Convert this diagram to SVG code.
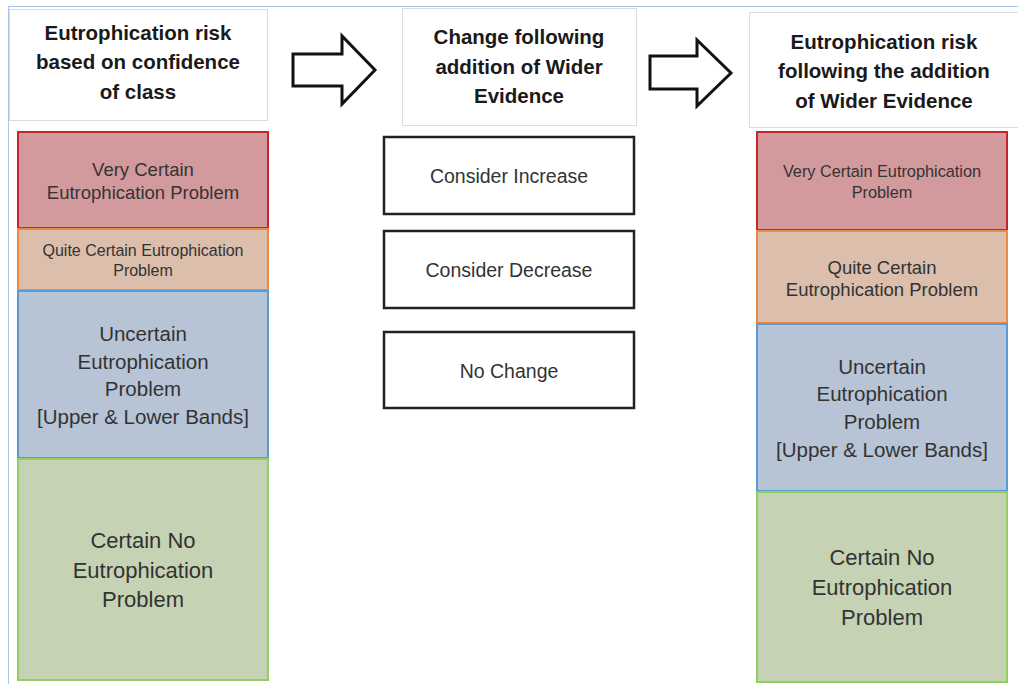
<svg xmlns="http://www.w3.org/2000/svg" width="1018" height="684" viewBox="0 0 1018 684">
<style>
text{font-family:"Liberation Sans",Arial,sans-serif;text-anchor:middle;fill:#333}
.hd{font-weight:bold;font-size:20.5px;fill:#1a1a1a}
.hbox{fill:#fff;stroke:#dcdcdc;stroke-width:1}
.opt{fill:#fff;stroke:#222;stroke-width:2.5}
.red{fill:#d39a9e;stroke:#c8262d;stroke-width:2}
.org{fill:#dbbeab;stroke:#ea8a45;stroke-width:2}
.blu{fill:#b7c4d5;stroke:#5b9bd5;stroke-width:2}
.grn{fill:#c5d2b4;stroke:#90cf60;stroke-width:2}
.arr{fill:#fff;stroke:#111;stroke-width:3;stroke-linejoin:miter}
</style>
<rect width="1018" height="684" fill="#fff"/>
<path d="M8.5 684V6.5H1018" fill="none" stroke="#a9c4ea" stroke-width="1"/>

<g id="left-header">
<rect class="hbox" x="9.5" y="9.5" width="258" height="111"/>
<text class="hd" x="138" y="40">Eutrophication risk</text>
<text class="hd" x="138" y="69">based on confidence</text>
<text class="hd" x="138" y="99">of class</text>
</g>
<g id="left-very-certain">
<rect class="red" x="18" y="132" width="250" height="96"/>
<text x="143" y="176" font-size="18.5">Very Certain</text>
<text x="143" y="199" font-size="18.5">Eutrophication Problem</text>
</g>
<g id="left-quite-certain">
<rect class="org" x="18" y="229" width="250" height="61"/>
<text x="143" y="256" font-size="16">Quite Certain Eutrophication</text>
<text x="143" y="276" font-size="16">Problem</text>
</g>
<g id="left-uncertain">
<rect class="blu" x="18" y="291" width="250" height="167"/>
<text x="143" y="341" font-size="20.5">Uncertain</text>
<text x="143" y="369" font-size="20.5">Eutrophication</text>
<text x="143" y="396" font-size="20.5">Problem</text>
<text x="143" y="424" font-size="20.5">[Upper &amp; Lower Bands]</text>
</g>
<g id="left-certain-no">
<rect class="grn" x="18" y="459" width="250" height="221"/>
<text x="143" y="548" font-size="22">Certain No</text>
<text x="143" y="578" font-size="22">Eutrophication</text>
<text x="143" y="607" font-size="22">Problem</text>
</g>

<g id="middle-header">
<rect class="hbox" x="402.5" y="8.5" width="234" height="117"/>
<text class="hd" x="519" y="44">Change following</text>
<text class="hd" x="519" y="74">addition of Wider</text>
<text class="hd" x="519" y="103">Evidence</text>
</g>
<g id="consider-increase">
<rect class="opt" x="384" y="137" width="250" height="77"/>
<text x="509" y="183" font-size="19.5">Consider Increase</text>
</g>
<g id="consider-decrease">
<rect class="opt" x="384" y="231" width="250" height="77"/>
<text x="509" y="277" font-size="19.5">Consider Decrease</text>
</g>
<g id="no-change">
<rect class="opt" x="384" y="332" width="250" height="76"/>
<text x="509" y="378" font-size="19.5">No Change</text>
</g>

<g id="right-header">
<rect class="hbox" x="749.5" y="12.5" width="270" height="115"/>
<text class="hd" x="884" y="49">Eutrophication risk</text>
<text class="hd" x="884" y="78">following the addition</text>
<text class="hd" x="884" y="108">of Wider Evidence</text>
</g>
<g id="right-very-certain">
<rect class="red" x="757" y="132" width="250" height="98"/>
<text x="882" y="177" font-size="16.3">Very Certain Eutrophication</text>
<text x="882" y="198" font-size="16.3">Problem</text>
</g>
<g id="right-quite-certain">
<rect class="org" x="757" y="231" width="250" height="92"/>
<text x="882" y="274" font-size="18.5">Quite Certain</text>
<text x="882" y="296" font-size="18.5">Eutrophication Problem</text>
</g>
<g id="right-uncertain">
<rect class="blu" x="757" y="324" width="250" height="167"/>
<text x="882" y="374" font-size="20.5">Uncertain</text>
<text x="882" y="401" font-size="20.5">Eutrophication</text>
<text x="882" y="429" font-size="20.5">Problem</text>
<text x="882" y="457" font-size="20.5">[Upper &amp; Lower Bands]</text>
</g>
<g id="right-certain-no">
<rect class="grn" x="757" y="492" width="250" height="190"/>
<text x="882" y="565" font-size="22">Certain No</text>
<text x="882" y="595" font-size="22">Eutrophication</text>
<text x="882" y="625" font-size="22">Problem</text>
</g>

<g id="connectors">
<path class="arr" d="M293 54H342V36L375 70L342 104V86H293Z"/>
<path class="arr" d="M650 56H697V40L731 73L697 106V89H650Z"/>
</g>
</svg>
